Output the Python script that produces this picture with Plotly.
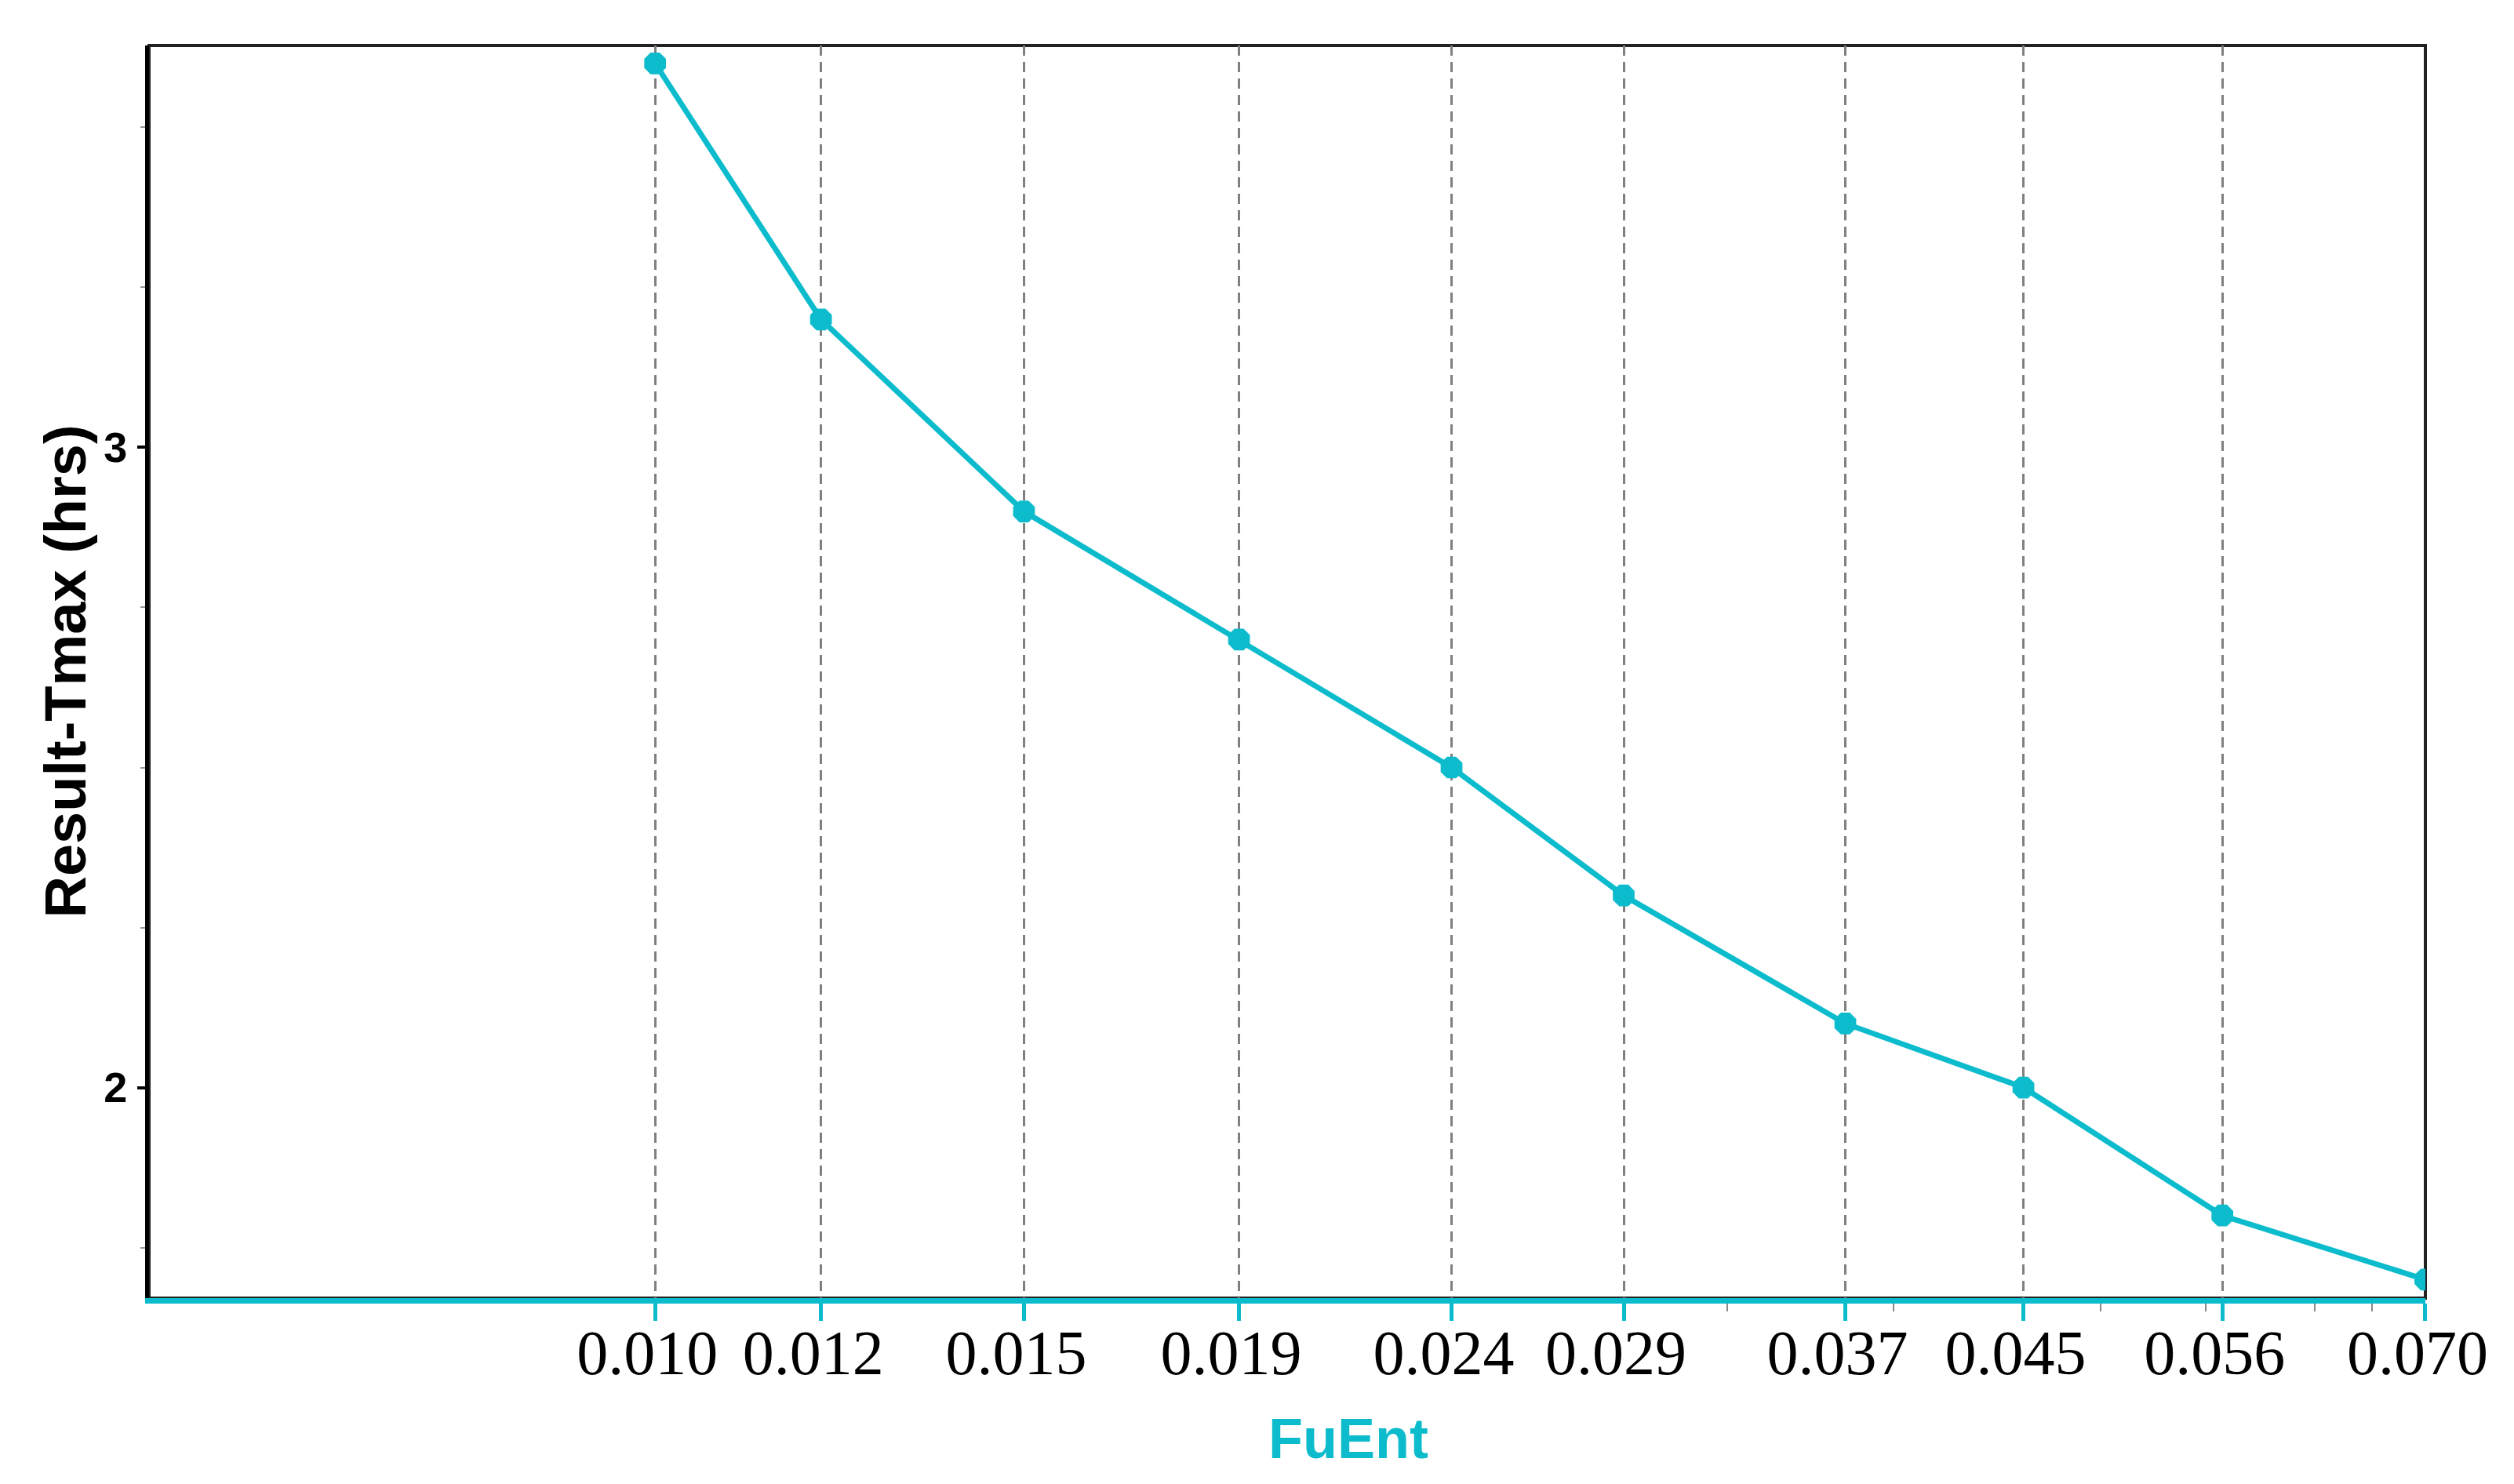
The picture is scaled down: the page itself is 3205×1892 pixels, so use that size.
import plotly.graph_objects as go

# Data
fuent = [0.010, 0.012, 0.015, 0.019, 0.024, 0.029, 0.037, 0.045, 0.056, 0.070]
tmax = [3.60, 3.20, 2.90, 2.70, 2.50, 2.30, 2.10, 2.00, 1.80, 1.70]
x_tick_labels = ["0.010", "0.012", "0.015", "0.019", "0.024", "0.029", "0.037", "0.045", "0.056", "0.070"]
x_minor_ticks = [0.0325, 0.039, 0.049, 0.055, 0.062, 0.066]
y_ticks = [2, 3]
y_tick_labels = ["2", "3"]

CYAN = "#0CBCCC"
W, H = 3205, 1892
L, R, T, B = 182, 121, 50, 245

fig = go.Figure()
fig.add_trace(go.Scatter(
    x=fuent, y=tmax, mode="lines+markers",
    line=dict(color=CYAN, width=7),
    marker=dict(symbol="octagon", size=30, color=CYAN, line=dict(width=0)),
    showlegend=False,
))

fig.update_layout(
    width=W, height=H,
    margin=dict(l=L, r=R, t=T, b=B, pad=0),
    paper_bgcolor="white", plot_bgcolor="white",
    showlegend=False,
)

fig.update_xaxes(
    type="log",
    range=[-2.2416, -1.15490],
    tickmode="array", tickvals=fuent,
    ticktext=[t + "\u00a0" for t in x_tick_labels],
    ticks="outside", ticklen=22, tickwidth=5, tickcolor=CYAN,
    tickfont=dict(family="Liberation Serif", size=80, color="black"),
    ticklabelstandoff=-28,
    showline=True, linecolor=CYAN, linewidth=7,
    showgrid=True, gridcolor="#808080", gridwidth=2.5, griddash="13px,8px",
    zeroline=False,
    minor=dict(tickmode="array", tickvals=x_minor_ticks, ticks="outside",
               ticklen=10, tickwidth=2, tickcolor="#888888", showgrid=False),
)

fig.update_yaxes(
    range=[1.671, 3.628],
    tickmode="array", tickvals=y_ticks, ticktext=y_tick_labels,
    ticks="outside", ticklen=10, tickwidth=4, tickcolor="black",
    tickfont=dict(family="Liberation Sans", size=54, color="black", weight="bold"),
    ticklabelstandoff=2,
    showline=True, linecolor="black", linewidth=5,
    showgrid=False, zeroline=False,
    minor=dict(dtick=0.25, tick0=0, ticks="outside", ticklen=6, tickwidth=2,
               tickcolor="#999999", showgrid=False),
)

# frame (top and right)
fig.add_shape(type="rect", xref="paper", yref="paper", x0=0, x1=1, y0=0, y1=1,
              line=dict(color="#222222", width=4), layer="below")

# axis titles
fig.add_annotation(
    text="<b>FuEnt</b>", xref="paper", yref="paper",
    x=0.527, y=-(1826 - (H - B)) / (H - T - B),
    showarrow=False, xanchor="center", yanchor="middle",
    font=dict(family="Liberation Sans", size=72, color=CYAN),
)
fig.add_annotation(
    text="<b>Result-Tmax (hrs)</b>", xref="paper", yref="paper",
    x=(75 - L) / (W - L - R), y=0.5, textangle=-90,
    showarrow=False, xanchor="center", yanchor="middle",
    font=dict(family="Liberation Sans", size=74, color="black"),
)

fig.write_html("out.html")
